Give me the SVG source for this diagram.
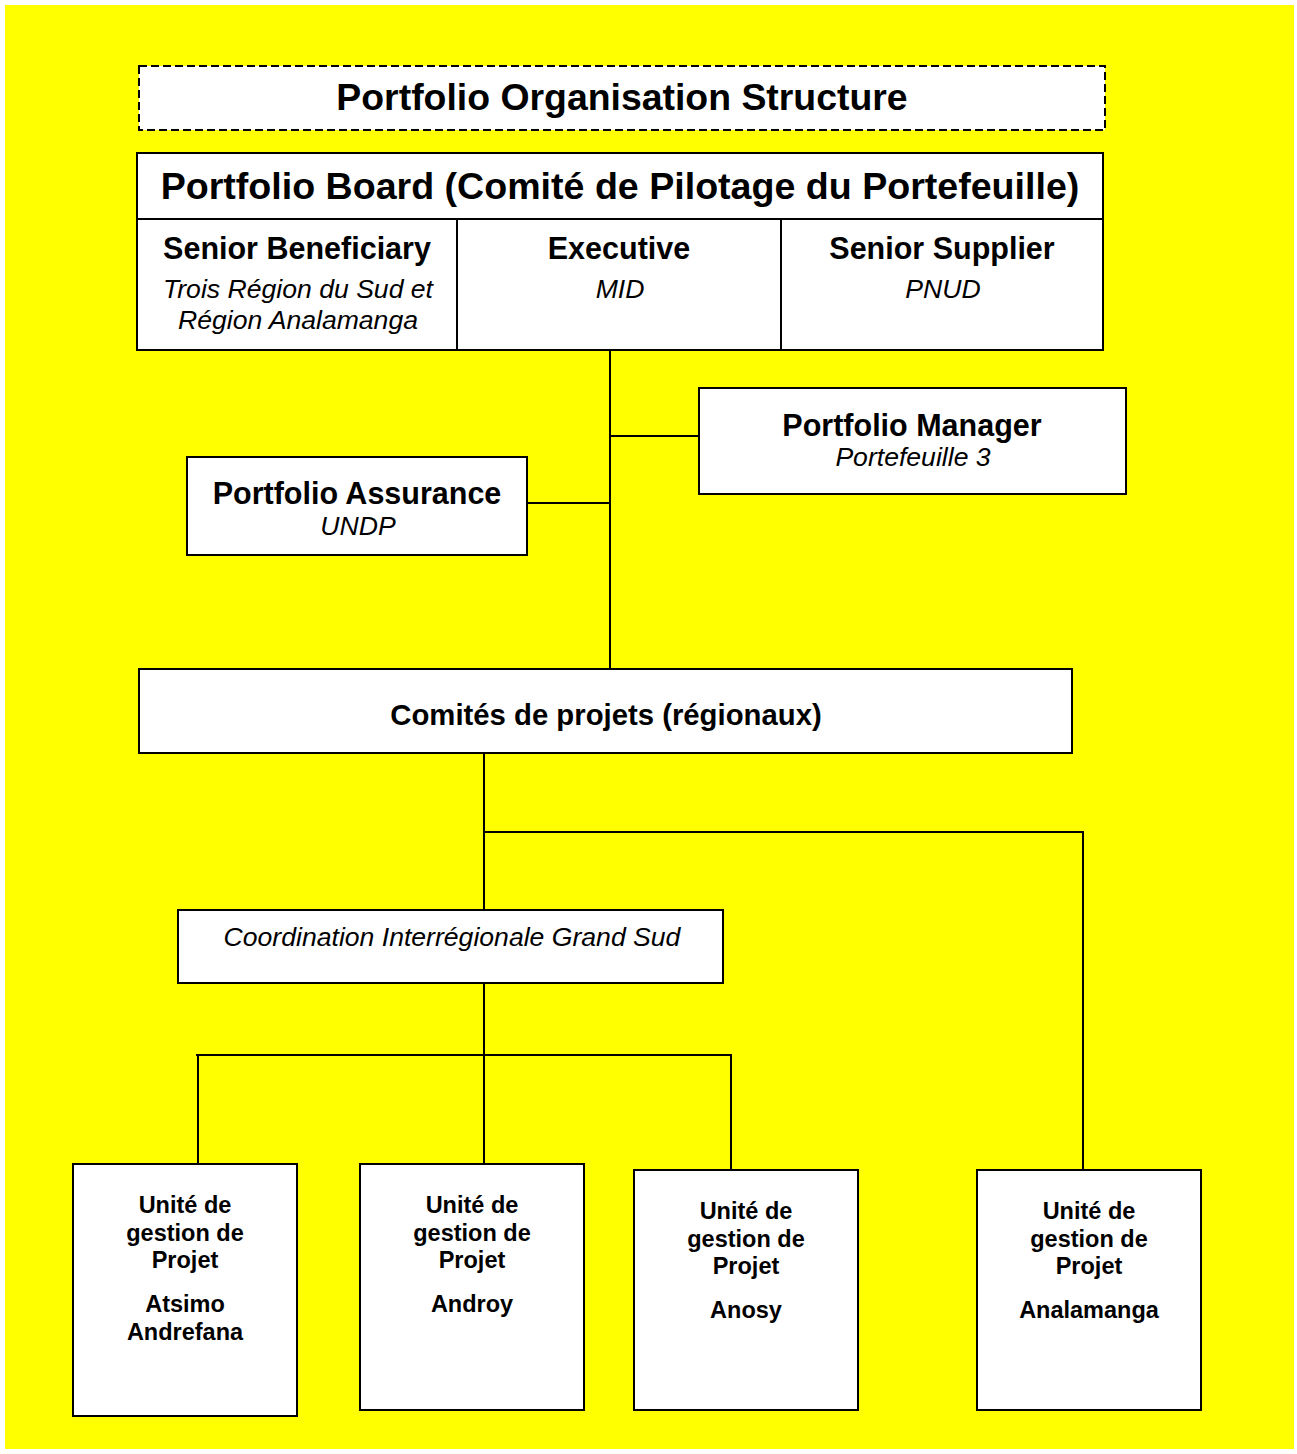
<svg xmlns="http://www.w3.org/2000/svg" width="1297" height="1454" viewBox="0 0 1297 1454">
<style>
text{font-family:"Liberation Sans",Arial,sans-serif;fill:#000;text-anchor:middle}
.b{font-weight:bold}
.i{font-style:italic}
.box{fill:#fff;stroke:#000;stroke-width:2}
.ln{fill:none;stroke:#000;stroke-width:2}
</style>
<rect x="0" y="0" width="1297" height="1454" fill="#fff"/>
<rect x="5" y="5" width="1289" height="1444" fill="#ffff00"/>
<g id="title">
<rect x="139" y="66" width="966" height="64" fill="#fff" stroke="#000" stroke-width="2" stroke-dasharray="8,4"/>
<text x="622" y="110" class="b" font-size="37.4">Portfolio Organisation Structure</text>
</g>
<g id="board">
<rect x="137" y="153" width="966" height="197" class="box"/>
<line x1="137" y1="219" x2="1103" y2="219" class="ln"/>
<line x1="457" y1="219" x2="457" y2="350" class="ln"/>
<line x1="781" y1="219" x2="781" y2="350" class="ln"/>
<text x="620" y="199" class="b" font-size="37.6">Portfolio Board (Comité de Pilotage du Portefeuille)</text>
<text x="297" y="259" class="b" font-size="30.5">Senior Beneficiary</text>
<text x="298" y="298" class="i" font-size="26.6">Trois Région du Sud et</text>
<text x="298" y="329" class="i" font-size="26.6">Région Analamanga</text>
<text x="619" y="259" class="b" font-size="30.5">Executive</text>
<text x="620" y="298" class="i" font-size="26.6">MID</text>
<text x="942" y="259" class="b" font-size="30.5">Senior Supplier</text>
<text x="943" y="298" class="i" font-size="26.6">PNUD</text>
</g>
<g id="connectors">
<line x1="610" y1="350" x2="610" y2="669" class="ln"/>
<line x1="610" y1="436" x2="698" y2="436" class="ln" stroke-width="1.5"/>
<line x1="528" y1="503" x2="610" y2="503" class="ln" stroke-width="1.5"/>
<line x1="484" y1="754" x2="484" y2="910" class="ln"/>
<polyline points="484,832 1083,832 1083,1170" class="ln"/>
<line x1="484" y1="983" x2="484" y2="1164" class="ln"/>
<line x1="196" y1="1055" x2="732" y2="1055" class="ln" stroke-width="2.5"/>
<line x1="198" y1="1055" x2="198" y2="1164" class="ln"/>
<line x1="731" y1="1055" x2="731" y2="1170" class="ln"/>
</g>
<g id="manager">
<rect x="699" y="388" width="427" height="106" class="box"/>
<text x="912" y="436" class="b" font-size="30.5">Portfolio Manager</text>
<text x="913" y="466" class="i" font-size="26.6">Portefeuille 3</text>
</g>
<g id="assurance">
<rect x="187" y="457" width="340" height="98" class="box"/>
<text x="357" y="504" class="b" font-size="30.5">Portfolio Assurance</text>
<text x="358" y="535" class="i" font-size="26.6">UNDP</text>
</g>
<g id="comites">
<rect x="139" y="669" width="933" height="84" class="box"/>
<text x="606" y="725" class="b" font-size="29.3">Comités de projets (régionaux)</text>
</g>
<g id="coordination">
<rect x="178" y="910" width="545" height="73" class="box"/>
<text x="452" y="946" class="i" font-size="26.6">Coordination Interrégionale Grand Sud</text>
</g>
<g id="ugp-atsimo">
<rect x="73" y="1164" width="224" height="252" class="box"/>
<text x="185" y="1213" class="b" font-size="23.5">Unité de</text>
<text x="185" y="1241" class="b" font-size="23.5">gestion de</text>
<text x="185" y="1268" class="b" font-size="23.5">Projet</text>
<text x="185" y="1312" class="b" font-size="23.5">Atsimo</text>
<text x="185" y="1340" class="b" font-size="23.5">Andrefana</text>
</g>
<g id="ugp-androy">
<rect x="360" y="1164" width="224" height="246" class="box"/>
<text x="472" y="1213" class="b" font-size="23.5">Unité de</text>
<text x="472" y="1241" class="b" font-size="23.5">gestion de</text>
<text x="472" y="1268" class="b" font-size="23.5">Projet</text>
<text x="472" y="1312" class="b" font-size="23.5">Androy</text>
</g>
<g id="ugp-anosy">
<rect x="634" y="1170" width="224" height="240" class="box"/>
<text x="746" y="1219" class="b" font-size="23.5">Unité de</text>
<text x="746" y="1247" class="b" font-size="23.5">gestion de</text>
<text x="746" y="1274" class="b" font-size="23.5">Projet</text>
<text x="746" y="1318" class="b" font-size="23.5">Anosy</text>
</g>
<g id="ugp-analamanga">
<rect x="977" y="1170" width="224" height="240" class="box"/>
<text x="1089" y="1219" class="b" font-size="23.5">Unité de</text>
<text x="1089" y="1247" class="b" font-size="23.5">gestion de</text>
<text x="1089" y="1274" class="b" font-size="23.5">Projet</text>
<text x="1089" y="1318" class="b" font-size="23.5">Analamanga</text>
</g>
</svg>
